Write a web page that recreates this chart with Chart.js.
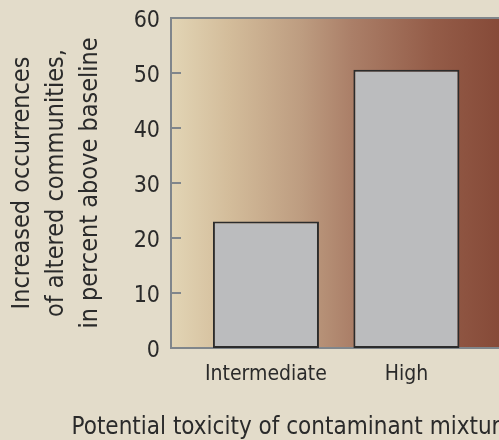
<!DOCTYPE html>
<html>
<head>
<meta charset="utf-8">
<script src="https://cdn.jsdelivr.net/npm/chart.js@4.4.1/dist/chart.umd.min.js"></script>
<style>
  html, body { margin: 0; padding: 0; background: #e3dcca; overflow: hidden; }
  #wrap { width: 499px; height: 440px; overflow: hidden; }
</style>
</head>
<body>
<div id="wrap"><canvas id="myBarChart" width="596" height="440"></canvas></div>
<script>
const categories = ["Intermediate", "High"];
const increase = [23, 50.6];
const yTicks = [0, 10, 20, 30, 40, 50, 60];
const yTitle = ["Increased occurrences", "of altered communities,", "in percent above baseline"];
const xTitle = "Potential toxicity of contaminant mixtures";

const font = "'Liberation Sans Narrow', 'DejaVu Sans Condensed', sans-serif";
const axisGray = "#80868b";
const textColor = "#2a2a2a";

// background + gradient plot area + inner tick marks
const backdrop = {
    id: "backdrop",
    beforeDraw(chart) {
        const { ctx, chartArea: a, width, height } = chart;
        ctx.save();
        ctx.fillStyle = "#e3dcca";
        ctx.fillRect(0, 0, width, height);
        const g = ctx.createLinearGradient(a.left, 0, 499, 0);
        g.addColorStop(0, "#e2d5b5");
        g.addColorStop(0.18, "#d3bc9a");
        g.addColorStop(0.4, "#bd9c80");
        g.addColorStop(0.55, "#ab7f68");
        g.addColorStop(0.8, "#945c48");
        g.addColorStop(1, "#864a38");
        ctx.fillStyle = g;
        ctx.fillRect(a.left, a.top, a.right - a.left, a.bottom - a.top);
        ctx.strokeStyle = axisGray;
        ctx.lineWidth = 2;
        ctx.beginPath();
        ctx.moveTo(a.left, a.top);
        ctx.lineTo(a.right, a.top);
        ctx.stroke();
        ctx.restore();
    },
    beforeDatasetsDraw(chart) {
        const { ctx, chartArea: a, scales } = chart;
        ctx.save();
        ctx.strokeStyle = axisGray;
        ctx.lineWidth = 2;
        yTicks.slice(1, -1).forEach((v) => {
            const y = Math.round(scales.y.getPixelForValue(v));
            ctx.beginPath();
            ctx.moveTo(a.left, y);
            ctx.lineTo(a.left + 10, y);
            ctx.stroke();
        });
        ctx.restore();
    },
};

const ctx = document.getElementById("myBarChart").getContext("2d");
const barChart = new Chart(ctx, {
    type: "bar",
    data: {
        datasets: [
            {
                data: increase.map((v, i) => ({ x: i + 1, y: v })),
                backgroundColor: "#bbbcbe",
                borderColor: "#2c2c2c",
                borderWidth: 2,
                borderSkipped: false,
                barPercentage: 0.755,
                categoryPercentage: 1,
            },
        ],
    },
    options: {
        responsive: false,
        animation: false,
        layout: { padding: { top: 18, left: 0, right: 0, bottom: 0 } },
        plugins: {
            legend: { display: false },
            tooltip: { enabled: false },
            title: {
                display: true,
                text: xTitle,
                position: "bottom",
                color: textColor,
                font: { family: font, size: 24, weight: "normal", lineHeight: 1.0 },
                padding: { top: 0, bottom: 0 },
            },
        },
        scales: {
            x: {
                type: "linear",
                offset: false,
                min: 0.324,
                max: 3.35,
                grid: { display: false, drawTicks: false },
                border: { display: true, color: axisGray, width: 2 },
                ticks: {
                    stepSize: 1,
                    includeBounds: false,
                    padding: 14,
                    color: textColor,
                    font: { family: font, size: 21 },
                    maxRotation: 0,
                    callback: (v) => categories[v - 1] || "",
                },
                afterFit: (scale) => { scale.height = 68; },
            },
            y: {
                min: 0,
                max: 60,
                grid: { display: false, drawTicks: false },
                border: { display: true, color: axisGray, width: 2 },
                ticks: {
                    stepSize: 10,
                    padding: 11,
                    labelOffset: 3,
                    color: textColor,
                    font: { family: font, size: 23 },
                },
                title: {
                    display: true,
                    text: yTitle,
                    color: textColor,
                    font: { family: font, size: 25, lineHeight: 1.35 },
                    padding: { top: 6, bottom: 0 },
                },
                afterFit: (scale) => {
                    scale.width = 171;
                    scale.paddingTop = 0;
                    scale.paddingBottom = 0;
                },
            },
        },
    },
    plugins: [backdrop],
});
</script>
</body>
</html>
